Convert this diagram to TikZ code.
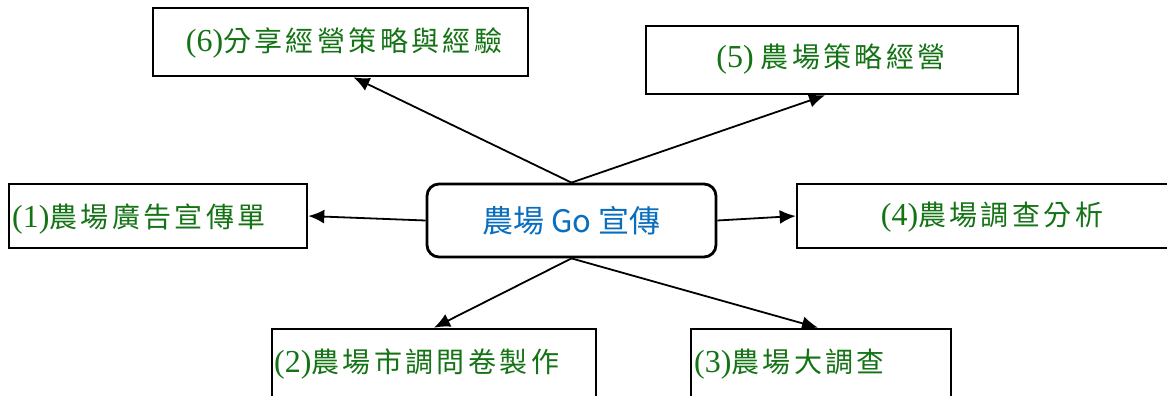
\documentclass[tikz,border=0pt]{standalone}
\usepackage{fontspec}
\setmainfont{Liberation Serif}
\newfontfamily\cjk{Noto Sans CJK TC}
\newfontfamily\cjksp[LetterSpace=12]{Noto Sans CJK TC}
\usetikzlibrary{arrows.meta}
\definecolor{lblgreen}{RGB}{20,115,20}
\definecolor{lblblue}{RGB}{10,110,190}
\newcommand{\numtag}[1]{{\fontsize{32}{32}\selectfont(#1)}}
\tikzset{
  box/.style={draw=black, line width=2.6pt, fill=white, inner sep=0pt},
  hub/.style={draw=black, line width=2.8pt, rounded corners=12pt, fill=white, inner sep=0pt,
    minimum width=289pt, minimum height=73pt, text=lblblue, font=\cjk\fontsize{31}{36}\selectfont},
  lbl/.style={inner sep=0pt, text=lblgreen, font=\fontsize{28}{32}\selectfont},
  conn/.style={line width=1.8pt, -{Latex[length=16pt,width=14pt]}}
}
\begin{document}
\begin{tikzpicture}[x=1pt,y=1pt]
\useasboundingbox (0,0) rectangle (1167,-396);
% boxes
\node[box, minimum width=375pt, minimum height=68pt] (b6) at (340.5,-42) {};
\node[box, minimum width=372pt, minimum height=68pt] (b5) at (832,-60) {};
\node[box, minimum width=298pt, minimum height=64pt] (b1) at (158,-216) {};
\node[box, minimum width=388pt, minimum height=64pt] (b4) at (991,-216) {};
\node[box, minimum width=324pt, minimum height=100pt] (b2) at (434,-379) {};
\node[box, minimum width=260pt, minimum height=100pt] (b3) at (821,-379) {};
\node[hub] (c) at (571.5,-220.5) {農場 Go 宣傳};
% labels
\node[lbl] (t6) at (344,-43) {\numtag{6}{\cjksp 分享經營策略與經驗}};
\node[lbl] (t5) at (831,-59) {\numtag{5} {\cjksp 農場策略經營}};
\node[lbl, anchor=west] (t1) at (12,-219) {\numtag{1}{\cjksp 農場廣告宣傳單}};
\node[lbl] (t4) at (992,-217) {\numtag{4}{\cjksp 農場調查分析}};
\node[lbl, anchor=west] (t2) at (274,-364) {\numtag{2}{\cjksp 農場市調問卷製作}};
\node[lbl, anchor=west] (t3) at (694,-364) {\numtag{3}{\cjksp 農場大調查}};
% connectors
\draw[conn] (c.north) -- ([xshift=13pt]b6.south);
\draw[conn] (c.north) -- ([xshift=-7pt]b5.south);
\draw[conn] (c.west) -- (b1.east);
\draw[conn] (c.east) -- (b4.west);
\draw[conn] (c.south) -- (b2.north);
\draw[conn] (c.south) -- ([xshift=-3pt]b3.north);
\end{tikzpicture}
\end{document}
